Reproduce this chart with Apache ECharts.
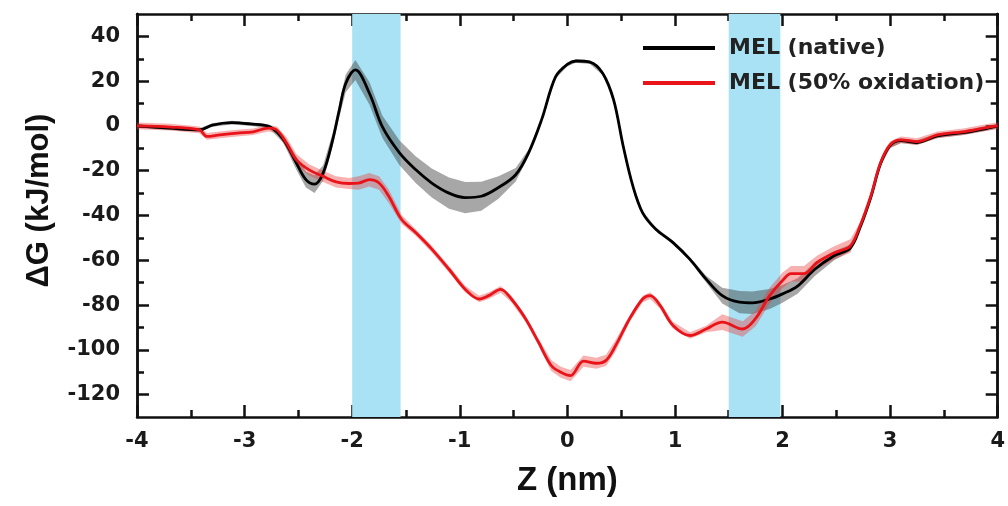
<!DOCTYPE html>
<html>
<head>
<meta charset="utf-8">
<script src="https://cdn.jsdelivr.net/npm/echarts@6/dist/echarts.min.js"></script>
<style>
  html, body { margin: 0; padding: 0; background: #fff; }
  #chart { width: 1008px; height: 506px; }
</style>
</head>
<body>
<div id="chart"></div>
<script>
// MEL (native)
var nativeZ = [-4, -3.7, -3.42, -3.3, -3.12, -2.95, -2.77, -2.64, -2.52, -2.43, -2.35, -2.27, -2.18, -2.12, -2.06, -1.97, -1.84, -1.72, -1.56, -1.41, -1.26, -1.1, -0.95, -0.8, -0.64, -0.48, -0.36, -0.24, -0.11, 0.0, 0.08, 0.21, 0.33, 0.43, 0.52, 0.61, 0.7, 0.82, 0.98, 1.14, 1.29, 1.44, 1.6, 1.72, 1.88, 2.0, 2.14, 2.3, 2.48, 2.63, 2.72, 2.82, 2.91, 3.0, 3.1, 3.25, 3.44, 3.68, 3.93, 4];
var nativeG = [0, -1, -1.8, 0.4, 1.5, 0.9, -0.3, -6, -16.5, -24, -26, -21, -6, 7, 19, 25, 14.6, -0.3, -12, -19.5, -25.5, -30, -32, -31.4, -27.5, -21.8, -12, 2.7, 21.9, 27.5, 29, 28.5, 23.4, 11.6, -9.2, -27, -38.8, -46, -52, -59.6, -68.4, -75.8, -78.7, -79, -77.3, -75, -71.5, -64, -58, -54.5, -45.5, -32, -17, -8.8, -6.6, -7.4, -4.4, -3, -0.8, 0];
var nativeErr = [0.8, 0.8, 0.8, 0.8, 0.8, 0.8, 0.8, 1.5, 3, 3.5, 4, 3.5, 3, 3, 4, 4.5, 5, 5, 5.5, 6, 6.5, 7, 7, 6.5, 5, 3, 1.5, 1, 0.8, 0.8, 0.8, 0.8, 0.8, 0.8, 0.8, 0.8, 0.8, 0.8, 0.8, 0.8, 1.5, 3.5, 5, 5, 4.5, 4, 3.5, 3, 2, 1.5, 1, 1, 1, 1, 1, 1, 1, 1, 1, 1];

// MEL (50% oxidation)
var oxZ = [-4, -3.69, -3.42, -3.35, -3.23, -3.07, -2.92, -2.78, -2.7, -2.61, -2.52, -2.4, -2.27, -2.15, -2.03, -1.94, -1.84, -1.75, -1.66, -1.54, -1.41, -1.26, -1.1, -0.95, -0.82, -0.73, -0.62, -0.52, -0.39, -0.27, -0.15, -0.06, 0.03, 0.15, 0.27, 0.36, 0.45, 0.58, 0.7, 0.77, 0.86, 0.98, 1.14, 1.29, 1.44, 1.63, 1.75, 1.88, 2.0, 2.08, 2.2, 2.32, 2.48, 2.63, 2.72, 2.82, 2.91, 3.0, 3.1, 3.25, 3.44, 3.68, 3.93, 4];
var oxG = [0, -0.5, -1.8, -4.7, -4, -3.2, -2.6, -1, -1.8, -7.6, -15, -19.6, -22.5, -25, -25.7, -25.5, -24, -25.5, -31.4, -41.8, -47.6, -55, -64, -72.9, -77.3, -75.8, -73, -77.3, -86, -96.4, -107, -110, -111.5, -105, -106, -104.7, -98, -86, -77.3, -75.8, -80, -89, -93.6, -90.7, -87.6, -90.7, -86, -75.8, -69, -66, -66, -61, -56.7, -53.6, -44.7, -31.4, -16.6, -8.4, -6.2, -7, -4, -2.6, -0.4, 0];
var oxErr = [1.5, 1.5, 1.5, 1.5, 1.5, 1.5, 1.5, 1.5, 1.5, 2.5, 2.5, 2.5, 2.5, 2.5, 2.5, 3, 3, 3, 3, 2, 1.5, 1.5, 1.5, 1.5, 1.5, 1.5, 1.5, 1.5, 1.5, 1.5, 2.5, 2.5, 2.5, 2.5, 2.5, 2.5, 2.5, 1.5, 1.5, 1.5, 1.5, 1.5, 1.5, 1.5, 3.5, 3.5, 3.5, 3.5, 3.5, 3.5, 3.5, 3, 3, 3, 1.5, 1.5, 1.5, 1.5, 1.5, 1.5, 1.5, 1.5, 1.5, 1.5];

// highlighted regions (nm)
var regions = [[-2.0, -1.55], [1.5, 1.98]];

var yMajor = [-120, -100, -80, -60, -40, -20, 0, 20, 40];
var yMinor = [-110, -90, -70, -50, -30, -10, 10, 30];

var seriesNames = ['MEL (native)', 'MEL (50% oxidation)'];

function pairs(xs, ys) {
  return xs.map(function (x, i) { return [x, ys[i]]; });
}

function band(xs, ys, errs, color) {
  return {
    type: 'custom',
    silent: true,
    clip: true,
    z: 1,
    data: [[xs[0], ys[0]]],
    renderItem: function (params, api) {
      var pts = [];
      for (var i = 0; i < xs.length; i++) pts.push(api.coord([xs[i], ys[i] + errs[i]]));
      for (var j = xs.length - 1; j >= 0; j--) pts.push(api.coord([xs[j], ys[j] - errs[j]]));
      return { type: 'polygon', shape: { points: pts }, style: { fill: color } };
    }
  };
}

var labelFont = { fontFamily: 'DejaVu Sans', fontWeight: 'bold', fontSize: 21, color: '#1a1a1a' };
var axisLine = { show: true, onZero: false, lineStyle: { color: '#111', width: 2.5 } };

function yAxisDef(pos, ticks, len, withLabels) {
  return {
    type: 'value', position: pos, min: -130, max: 50,
    axisLine: axisLine,
    splitLine: { show: false },
    axisTick: { show: true, inside: true, length: len, customValues: ticks, lineStyle: { color: '#111', width: 2.5 } },
    axisLabel: withLabels
      ? Object.assign({ show: true, margin: 17, customValues: ticks }, labelFont)
      : { show: false }
  };
}

var chart = echarts.init(document.getElementById('chart'));

var yLeft = yAxisDef('left', yMajor, 12, true);
yLeft.name = 'ΔG (kJ/mol)';
yLeft.nameLocation = 'middle';
yLeft.nameGap = 82;
yLeft.nameTextStyle = { fontFamily: 'Liberation Sans', fontWeight: 'bold', fontSize: 31, color: '#111', padding: [0, 0, 0, 30] };

chart.setOption({
  animation: false,
  backgroundColor: '#fff',
  grid: { left: 137, right: 7, top: 14, bottom: 89 },
  legend: {
    data: seriesNames,
    orient: 'vertical',
    left: 638,
    top: 31,
    icon: 'rect',
    itemWidth: 72,
    itemHeight: 4,
    itemGap: 11,
    textStyle: { fontFamily: 'DejaVu Sans', fontWeight: 'bold', fontSize: 22, color: '#222', padding: [0, 0, 0, 9], lineHeight: 24 }
  },
  xAxis: [{
    type: 'value', position: 'bottom', min: -4, max: 4, interval: 1,
    name: 'Z (nm)', nameLocation: 'middle', nameGap: 47,
    nameTextStyle: { fontFamily: 'Liberation Sans', fontWeight: 'bold', fontSize: 33, color: '#111' },
    axisLine: axisLine,
    splitLine: { show: false },
    axisTick: { show: true, inside: true, length: 12, lineStyle: { color: '#111', width: 2.5 } },
    minorTick: { show: true, splitNumber: 2, length: 7, lineStyle: { color: '#111', width: 2.5 } },
    axisLabel: Object.assign({ margin: 14 }, labelFont)
  }, {
    type: 'value', position: 'top', min: -4, max: 4, interval: 1,
    axisLine: axisLine,
    splitLine: { show: false },
    axisTick: { show: true, inside: true, length: 12, lineStyle: { color: '#111', width: 2.5 } },
    minorTick: { show: true, splitNumber: 2, length: 7, lineStyle: { color: '#111', width: 2.5 } },
    axisLabel: { show: false }
  }],
  yAxis: [
    yLeft,
    yAxisDef('left', yMinor, 7, false),
    yAxisDef('right', yMajor, 12, false),
    yAxisDef('right', yMinor, 7, false)
  ],
  series: [
    {
      type: 'line', data: [], silent: true,
      markArea: {
        silent: true,
        itemStyle: { color: '#a8e2f4', opacity: 1 },
        data: regions.map(function (r) { return [{ xAxis: r[0] }, { xAxis: r[1] }]; })
      },
      z: 0
    },
    band(nativeZ, nativeG, nativeErr, 'rgba(60,60,60,0.45)'),
    band(oxZ, oxG, oxErr, 'rgba(235,60,60,0.4)'),
    {
      name: seriesNames[0], type: 'line', data: pairs(nativeZ, nativeG),
      smooth: 0.35, showSymbol: false, z: 3,
      color: '#000', lineStyle: { color: '#000', width: 2.8 }
    },
    {
      name: seriesNames[1], type: 'line', data: pairs(oxZ, oxG),
      smooth: 0.35, showSymbol: false, z: 4,
      color: '#e8141a', lineStyle: { color: '#e8141a', width: 2.8 }
    }
  ]
});
</script>
</body>
</html>
